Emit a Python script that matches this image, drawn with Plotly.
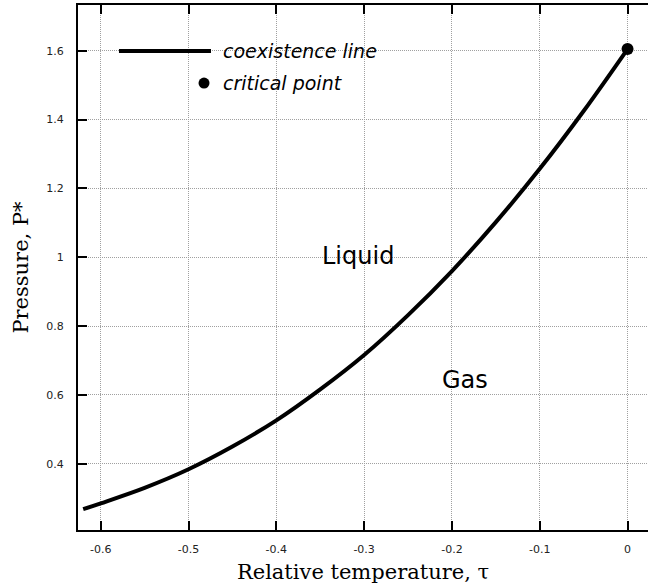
import plotly.graph_objects as go

# Coexistence line data
tau = [-0.62, -0.6, -0.55, -0.5, -0.45, -0.4, -0.35, -0.3, -0.25, -0.2, -0.15, -0.1, -0.05, 0.0]
pressure = [0.268, 0.285, 0.330, 0.384, 0.450, 0.526, 0.616, 0.716, 0.832, 0.960, 1.102, 1.257, 1.425, 1.605]

# Critical point
crit_tau = [0.0]
crit_p = [1.605]

x_tickvals = [-0.6, -0.5, -0.4, -0.3, -0.2, -0.1, 0.0]
x_ticktext = ["-0.6", "-0.5", "-0.4", "-0.3", "-0.2", "-0.1", "0"]
y_tickvals = [0.4, 0.6, 0.8, 1.0, 1.2, 1.4, 1.6]
y_ticktext = ["0.4", "0.6", "0.8", "1", "1.2", "1.4", "1.6"]

fig = go.Figure()
fig.add_trace(go.Scatter(
    x=tau, y=pressure, mode="lines", line=dict(color="black", width=4, shape="spline"),
    showlegend=False, hoverinfo="skip"))
fig.add_trace(go.Scatter(
    x=crit_tau, y=crit_p, mode="markers", marker=dict(color="black", size=12),
    showlegend=False, cliponaxis=False))

tickfont = dict(family="DejaVu Sans", size=11, color="#222")
titlefont = dict(family="DejaVu Serif", size=21, color="black")

fig.update_xaxes(
    range=[-0.6259, 0.0233], tickvals=x_tickvals, ticktext=x_ticktext,
    ticks="inside", ticklen=9, tickwidth=1.5, tickcolor="black",
    showline=True, linecolor="black", linewidth=2, mirror="ticks",
    showgrid=True, gridcolor="#a0a0a0", gridwidth=1, griddash="1px,1px",
    zeroline=False, tickfont=tickfont, ticklabelstandoff=8,
    title=dict(text="Relative temperature, τ", font=titlefont, standoff=9))
fig.update_yaxes(
    range=[0.2075, 1.733], tickvals=y_tickvals, ticktext=y_ticktext,
    ticks="inside", ticklen=9, tickwidth=1.5, tickcolor="black",
    showline=True, linecolor="black", linewidth=2, mirror=False,
    showgrid=True, gridcolor="#a0a0a0", gridwidth=1, griddash="1px,1px",
    zeroline=False, tickfont=tickfont, ticklabelstandoff=10,
    title=dict(text="Pressure, P*", font=titlefont, standoff=12))

# Manual legend (gnuplot style)
fig.add_shape(type="line", xref="paper", yref="paper",
              x0=0.0719, x1=0.2333, y0=0.9124, y1=0.9124,
              line=dict(color="black", width=4))
fig.add_shape(type="circle", xref="paper", yref="paper",
              xsizemode="pixel", ysizemode="pixel",
              xanchor=0.2211, yanchor=0.8514, x0=-5.5, x1=5.5, y0=-5.5, y1=5.5,
              fillcolor="black", line=dict(color="black", width=0))
legfont = dict(family="DejaVu Sans", size=19, color="black", style="italic")
fig.add_annotation(xref="paper", yref="paper", x=0.2509, y=0.9124, xanchor="left",
                   yanchor="middle", text="coexistence line", showarrow=False, font=legfont)
fig.add_annotation(xref="paper", yref="paper", x=0.2509, y=0.8514, xanchor="left",
                   yanchor="middle", text="critical point", showarrow=False, font=legfont)

regionfont = dict(family="DejaVu Sans", size=24, color="black")
fig.add_annotation(x=-0.3071, y=1.0045, text="Liquid", showarrow=False, font=regionfont)
fig.add_annotation(x=-0.1857, y=0.6437, text="Gas", showarrow=False, font=regionfont)

fig.update_layout(
    width=648, height=587,
    margin=dict(l=78, r=0, t=5, b=57),
    plot_bgcolor="white", paper_bgcolor="white",
)

fig.write_html("out.html", config={"displayModeBar": False},
               post_script="document.body.style.margin='0';document.body.style.overflow='hidden';")
